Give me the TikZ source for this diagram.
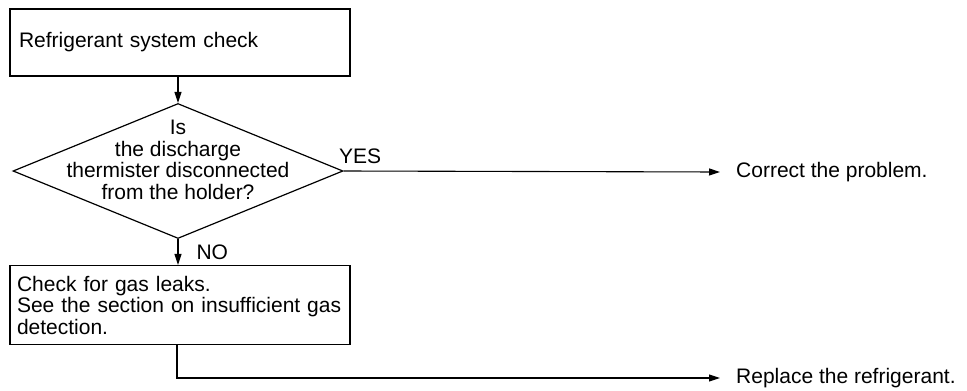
\documentclass[tikz,border=0pt]{standalone}
\usepackage{fontspec}
\setmainfont{Liberation Sans}
\usetikzlibrary{arrows.meta,positioning,shapes.geometric}

\begin{document}
\begin{tikzpicture}[x=1pt,y=-1pt,
    every node/.style={font=\fontsize{21}{21.5}\selectfont},
    procbox/.style={draw, line width=1.2pt, minimum width=340pt, text width=326pt, align=left, inner xsep=7pt},
    decision/.style={draw, diamond, line width=1.2pt, minimum width=330pt, minimum height=135pt, inner sep=0pt},
    flow/.style={line width=1.1pt, -{Triangle[length=11pt,width=7pt]}},
    note/.style={anchor=west, inner sep=0pt}]
    \useasboundingbox (0,0) rectangle (967,391);

    % boxes and decision
    \node[procbox, minimum height=67pt] (start) at (180,42.5) {\hspace*{2pt}Refrigerant system check};
    \node[decision] (dec) at (178,171) {};
    \node[align=center, inner sep=0pt] (question) at (178,160) {Is\\the discharge\\thermister disconnected\\from the holder?};
    \node[procbox, minimum height=79pt] (leak) at (180,305) {Check for gas leaks.\\See the section on insufficient gas\\detection.};

    % results
    \node[note] (fix) at (736,172) {Correct the problem.};
    \node[note] (refill) at (736,378) {Replace the refrigerant.};
    \coordinate (corner) at (177,378);

    % connectors
    \draw[flow] (dec.north |- start.south) -- (dec.north);
    \draw[flow] (dec.east) -- node[at start, anchor=base west, inner sep=0pt, xshift=-5pt, yshift=8pt] (yes) {YES} ([xshift=-16pt]fix.west);
    \draw[flow] (dec.south) -- node[pos=0.8, anchor=base west, inner sep=0pt, xshift=18pt] (no) {NO} (dec.south |- leak.north);
    \draw[flow] (corner |- leak.south) -- (corner) -- ([xshift=-16pt]refill.west);
\end{tikzpicture}
\end{document}
